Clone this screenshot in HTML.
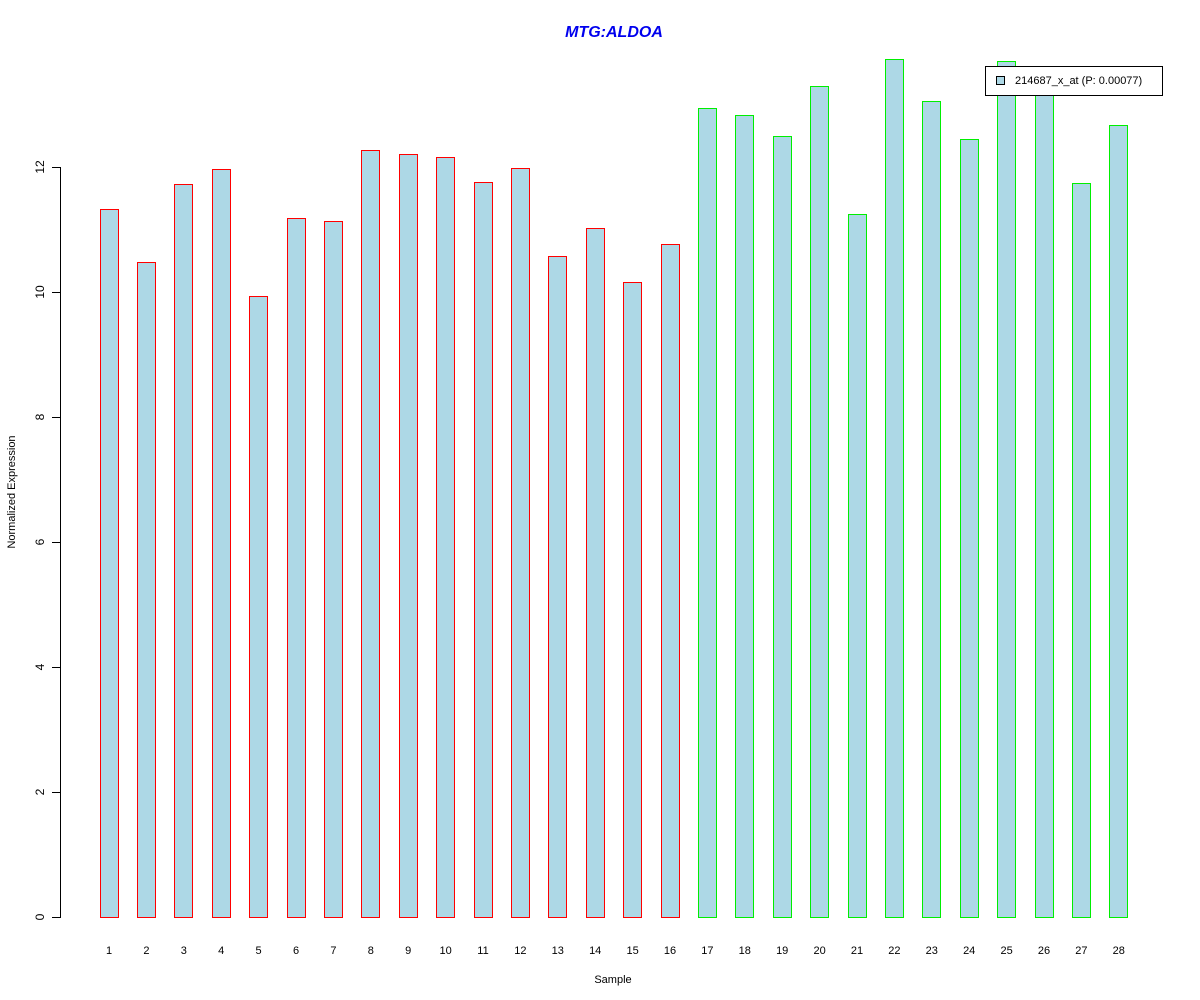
<!DOCTYPE html>
<html><head><meta charset="utf-8"><style>
html,body{margin:0;padding:0;background:#fff;}
#wrap{position:relative;width:1200px;height:1000px;overflow:hidden;}
svg{display:block;position:absolute;left:0;top:0;font-family:"Liberation Sans",Arial,sans-serif;}
.b{position:absolute;box-sizing:border-box;width:19px;background:#add8e6;border:1px solid #ff0000;}
.g{border-color:#00ee00;}
#leg{position:absolute;left:985px;top:66px;width:178px;height:30px;box-sizing:border-box;border:1px solid #000;background:#fff;font-family:"Liberation Sans",Arial,sans-serif;font-size:11px;line-height:13px;}
#leg .sw{position:absolute;left:10px;top:9px;width:9px;height:9px;box-sizing:border-box;border:1px solid #000;background:#add8e6;}
#leg .t{position:absolute;left:29px;top:8px;white-space:nowrap;}
</style></head><body><div id="wrap">
<svg width="1200" height="1000" viewBox="0 0 1200 1000" xmlns="http://www.w3.org/2000/svg">
<text x="614" y="37" text-anchor="middle" font-size="16" font-weight="bold" font-style="italic" fill="#0000ee">MTG:ALDOA</text>
<g fill="#000" shape-rendering="crispEdges">
<rect x="60" y="167" width="1" height="751"/>
<rect x="52" y="917" width="8" height="1"/>
<rect x="52" y="792" width="8" height="1"/>
<rect x="52" y="667" width="8" height="1"/>
<rect x="52" y="542" width="8" height="1"/>
<rect x="52" y="417" width="8" height="1"/>
<rect x="52" y="292" width="8" height="1"/>
<rect x="52" y="167" width="8" height="1"/>
</g>
<g font-size="12" fill="#000" text-anchor="middle">
<text transform="translate(44,917) rotate(-90)">0</text>
<text transform="translate(44,792) rotate(-90)">2</text>
<text transform="translate(44,667) rotate(-90)">4</text>
<text transform="translate(44,542) rotate(-90)">6</text>
<text transform="translate(44,417) rotate(-90)">8</text>
<text transform="translate(44,292) rotate(-90)">10</text>
<text transform="translate(44,167) rotate(-90)">12</text>
<text transform="translate(15,492) rotate(-90)" font-size="11">Normalized Expression</text>
<text x="613" y="983" font-size="11">Sample</text>
</g>
<g font-size="11" text-anchor="middle" fill="#000">
<text x="109" y="954">1</text><text x="146.4" y="954">2</text><text x="183.8" y="954">3</text><text x="221.2" y="954">4</text>
<text x="258.6" y="954">5</text><text x="296" y="954">6</text><text x="333.4" y="954">7</text><text x="370.8" y="954">8</text>
<text x="408.2" y="954">9</text><text x="445.6" y="954">10</text><text x="483" y="954">11</text><text x="520.4" y="954">12</text>
<text x="557.8" y="954">13</text><text x="595.2" y="954">14</text><text x="632.6" y="954">15</text><text x="670" y="954">16</text>
<text x="707.4" y="954">17</text><text x="744.8" y="954">18</text><text x="782.2" y="954">19</text><text x="819.6" y="954">20</text>
<text x="857" y="954">21</text><text x="894.4" y="954">22</text><text x="931.8" y="954">23</text><text x="969.2" y="954">24</text>
<text x="1006.6" y="954">25</text><text x="1044" y="954">26</text><text x="1081.4" y="954">27</text><text x="1118.8" y="954">28</text>
</g>
</svg>
<div class="b" style="left:100px;top:209px;height:709px"></div>
<div class="b" style="left:137px;top:262px;height:656px"></div>
<div class="b" style="left:174px;top:184px;height:734px"></div>
<div class="b" style="left:212px;top:169px;height:749px"></div>
<div class="b" style="left:249px;top:296px;height:622px"></div>
<div class="b" style="left:287px;top:218px;height:700px"></div>
<div class="b" style="left:324px;top:221px;height:697px"></div>
<div class="b" style="left:361px;top:150px;height:768px"></div>
<div class="b" style="left:399px;top:154px;height:764px"></div>
<div class="b" style="left:436px;top:157px;height:761px"></div>
<div class="b" style="left:474px;top:182px;height:736px"></div>
<div class="b" style="left:511px;top:168px;height:750px"></div>
<div class="b" style="left:548px;top:256px;height:662px"></div>
<div class="b" style="left:586px;top:228px;height:690px"></div>
<div class="b" style="left:623px;top:282px;height:636px"></div>
<div class="b" style="left:661px;top:244px;height:674px"></div>
<div class="b g" style="left:698px;top:108px;height:810px"></div>
<div class="b g" style="left:735px;top:115px;height:803px"></div>
<div class="b g" style="left:773px;top:136px;height:782px"></div>
<div class="b g" style="left:810px;top:86px;height:832px"></div>
<div class="b g" style="left:848px;top:214px;height:704px"></div>
<div class="b g" style="left:885px;top:59px;height:859px"></div>
<div class="b g" style="left:922px;top:101px;height:817px"></div>
<div class="b g" style="left:960px;top:139px;height:779px"></div>
<div class="b g" style="left:997px;top:61px;height:857px"></div>
<div class="b g" style="left:1035px;top:90px;height:828px"></div>
<div class="b g" style="left:1072px;top:183px;height:735px"></div>
<div class="b g" style="left:1109px;top:125px;height:793px"></div>
<div id="leg"><div class="sw"></div><div class="t">214687_x_at (P: 0.00077)</div></div>
</div></body></html>
